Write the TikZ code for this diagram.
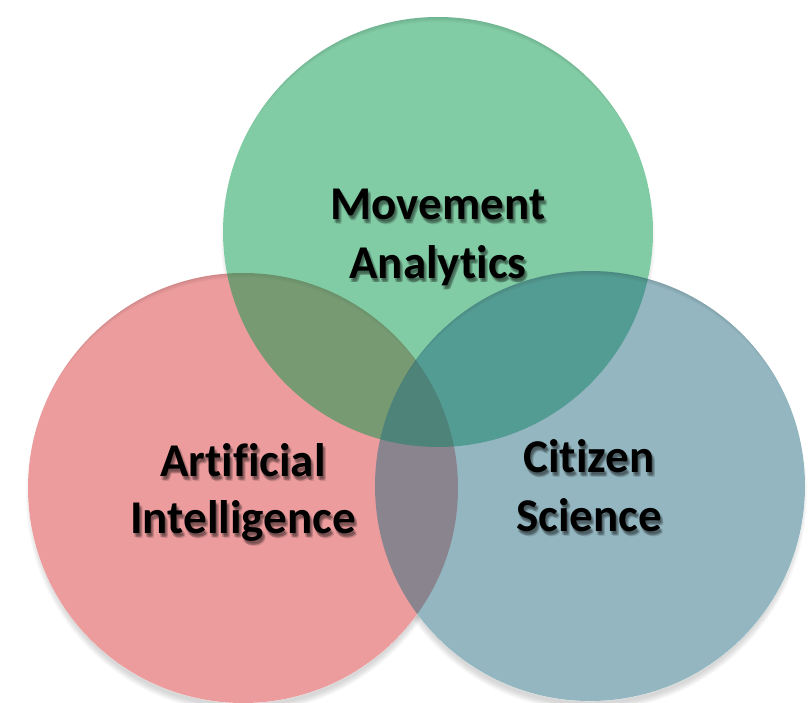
\documentclass[tikz,border=0pt]{standalone}
\usepackage{fontspec}
\setmainfont[Ligatures=NoCommon]{Carlito}
\definecolor{redc}{RGB}{217,57,59}
\definecolor{greenc}{RGB}{5,153,75}
\definecolor{bluec}{RGB}{39,109,129}
\tikzset{
  venn/.style={circle, minimum size=430pt, inner sep=0pt, outer sep=0pt, fill opacity=0.5},
  lbl/.style={font=\bfseries\fontsize{47}{58}\selectfont, anchor=base, inner sep=0pt, text=black},
  lblshadow/.style={lbl, text opacity=0.13},
}
\newcommand\shadowedlabel[4]{%
  \foreach \dx/\dy [count=\i] in {1/2,2/4,3/3,3/5,1/4}{%
    \node[lblshadow] (#1s\i) at (#2+\dx,#3+\dy) {#4};}%
  \node[lbl] (#1) at (#2,#3) {#4};}
\newcommand\innershade[3]{%
  \begin{scope}
    \clip (#1,#2) circle (#3);
    \foreach \k in {1,2,3,4,5}{%
      \fill[black, opacity=0.025, even odd rule] (#1-#3-20,#2-#3-20) rectangle (#1+#3+20,#2+#3+20) (#1,#2+\k+4) circle (#3+4);}
  \end{scope}}
\begin{document}
\begin{tikzpicture}[x=1pt,y=-1pt]
\useasboundingbox (0,0) rectangle (808,703);
% soft outer shadows, kept outside all circles
\begin{scope}[even odd rule]
  \clip (0,0) rectangle (808,703) (243,488) circle (215.3);
  \begin{scope}[even odd rule]
    \clip (0,0) rectangle (808,703) (438,232) circle (215.3);
    \begin{scope}[even odd rule]
      \clip (0,0) rectangle (808,703) (590,486) circle (215.3);
      \foreach \cx/\cy in {243/488, 438/232, 590/486}{%
        \foreach \k in {1,2,3,4,5,6,7}{%
          \fill[black, opacity=0.025] (\cx,\cy+8) circle (210+\k);}}
    \end{scope}
  \end{scope}
\end{scope}
% circles
\node[venn, fill=redc] (ai) at (243,488) {};
\innershade{243}{488}{215}
\node[venn, fill=greenc] (ma) at (438,232) {};
\innershade{438}{232}{215}
\node[venn, fill=bluec] (cs) at (590,486) {};
\innershade{590}{486}{215}
% labels
\shadowedlabel{maA}{438}{220}{Movement}
\shadowedlabel{maB}{438}{278}{Analytics}
\shadowedlabel{aiA}{243}{476}{Artificial}
\shadowedlabel{aiB}{243}{533}{Intelligence}
\shadowedlabel{csA}{589}{472}{Citizen}
\shadowedlabel{csB}{589}{531}{Science}
\end{tikzpicture}
\end{document}
